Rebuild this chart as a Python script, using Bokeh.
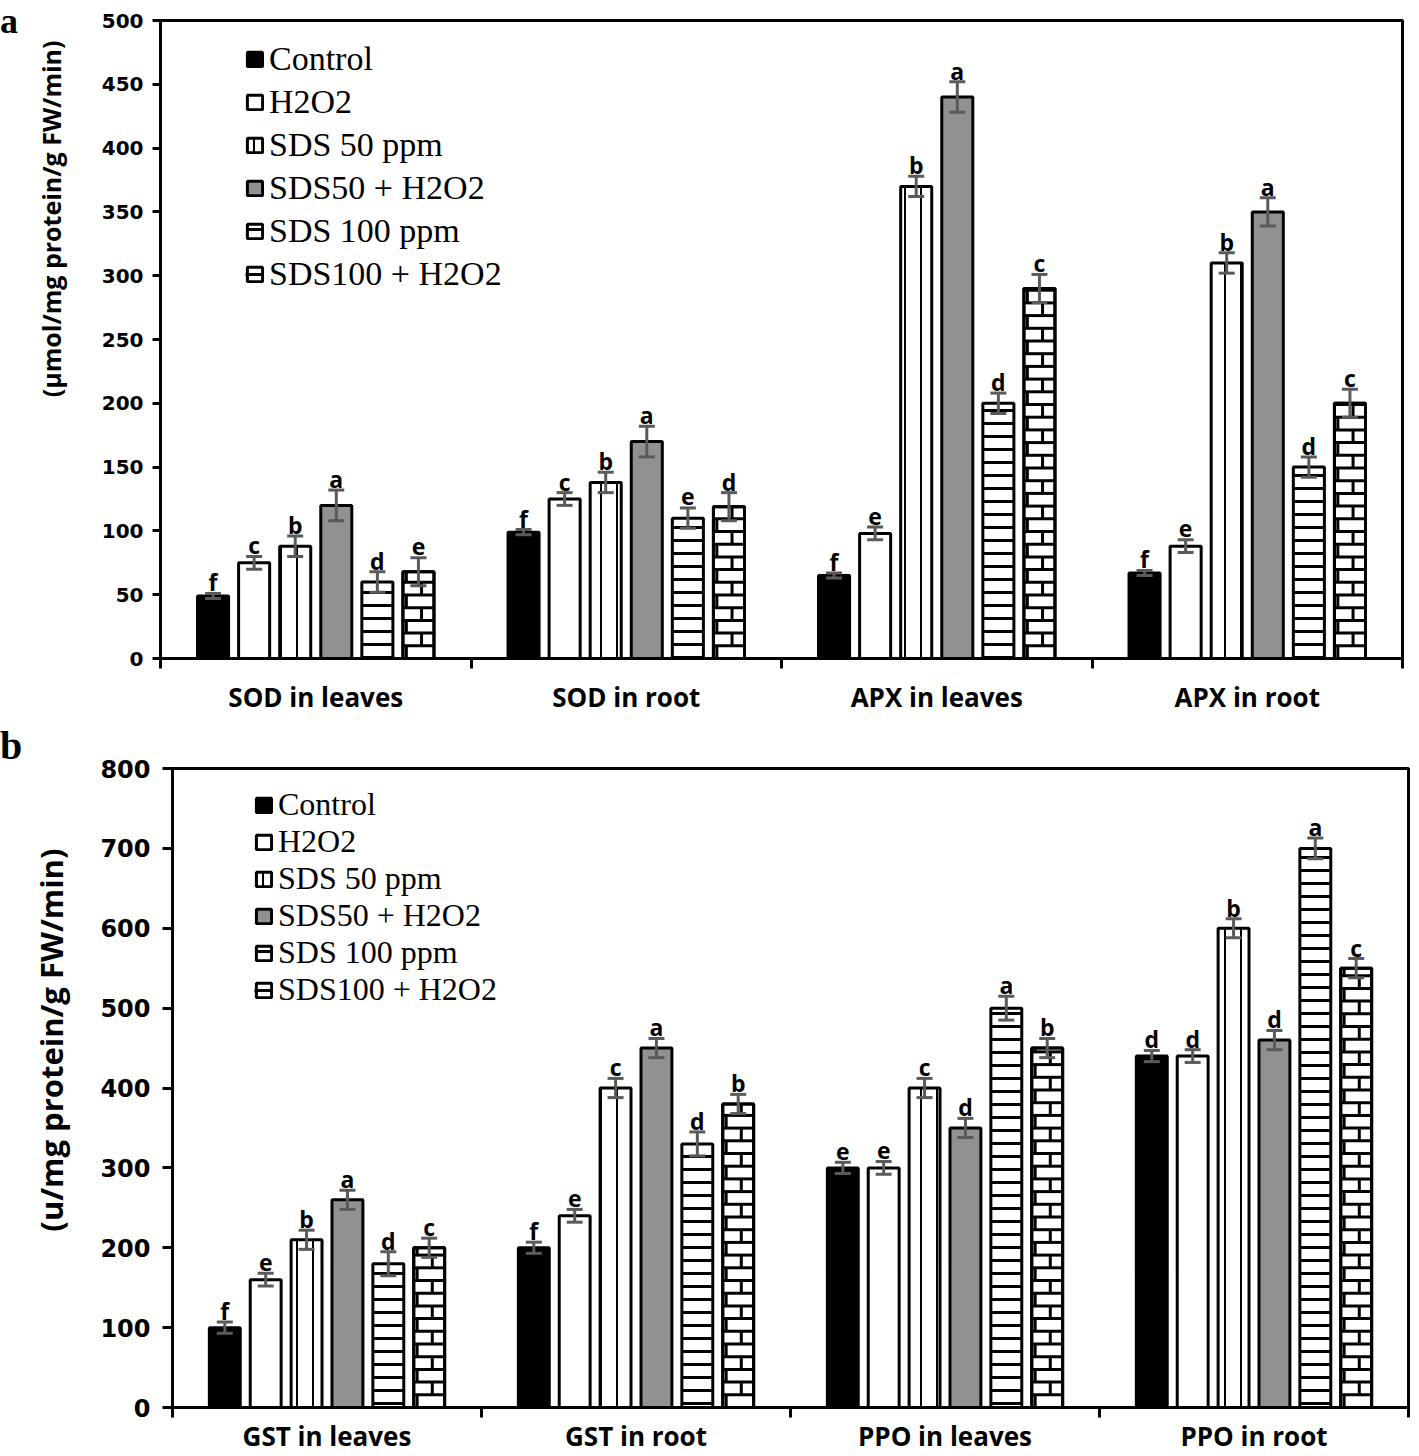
import numpy as np
from bokeh.plotting import figure
from bokeh.models import (ColumnDataSource, Range1d, FixedTicker, Whisker, TeeHead,
                          Legend, LegendItem, Title, CanvasTexture, Div)
from bokeh.layouts import column, row
from bokeh.embed import file_html
from bokeh.resources import INLINE
from bokeh.core.properties import value

# ---------------- data ----------------
treatments = ["Control", "H2O2", "SDS 50 ppm", "SDS50 + H2O2", "SDS 100 ppm", "SDS100 + H2O2"]

# panel a
groups_a = ["SOD in leaves", "SOD in root", "APX in leaves", "APX in root"]
control_a = [49, 99, 65, 67]
h2o2_a = [75, 125, 98, 88]
sds50_a = [88, 138, 370, 310]
sds50_h2o2_a = [120, 170, 440, 350]
sds100_a = [60, 110, 200, 150]
sds100_h2o2_a = [68, 119, 290, 200]

err_control_a = [2, 2, 2, 2]
err_h2o2_a = [5, 5, 5, 5]
err_sds50_a = [8, 8, 8, 8]
err_sds50_h2o2_a = [12, 12, 12, 11]
err_sds100_a = [8, 8, 8, 8]
err_sds100_h2o2_a = [11, 11, 11, 11]

let_control_a = ["f", "f", "f", "f"]
let_h2o2_a = ["c", "c", "e", "e"]
let_sds50_a = ["b", "b", "b", "b"]
let_sds50_h2o2_a = ["a", "a", "a", "a"]
let_sds100_a = ["d", "e", "d", "d"]
let_sds100_h2o2_a = ["e", "d", "c", "c"]

yticks_a = [0, 50, 100, 150, 200, 250, 300, 350, 400, 450, 500]
ylabel_a = "(µmol/mg protein/g FW/min)"

# panel b
groups_b = ["GST in leaves", "GST in root", "PPO in leaves", "PPO in root"]
control_b = [100, 200, 300, 440]
h2o2_b = [160, 240, 300, 440]
sds50_b = [210, 400, 400, 600]
sds50_h2o2_b = [260, 450, 350, 460]
sds100_b = [180, 330, 500, 700]
sds100_h2o2_b = [200, 380, 450, 550]

err_control_b = [7, 7, 7, 7]
err_h2o2_b = [8, 8, 8, 8]
err_sds50_b = [12, 12, 12, 12]
err_sds50_h2o2_b = [12, 12, 12, 12]
err_sds100_b = [15, 15, 15, 13]
err_sds100_h2o2_b = [12, 12, 12, 12]

let_control_b = ["f", "f", "e", "d"]
let_h2o2_b = ["e", "e", "e", "d"]
let_sds50_b = ["b", "c", "c", "b"]
let_sds50_h2o2_b = ["a", "a", "d", "d"]
let_sds100_b = ["d", "d", "a", "a"]
let_sds100_h2o2_b = ["c", "b", "b", "c"]

yticks_b = [0, 100, 200, 300, 400, 500, 600, 700, 800]
ylabel_b = "(u/mg protein/g FW/min)"

# ---------------- styles ----------------
checker_js = """
const n = ctx.canvas.width;
const h = n / 2;
ctx.fillStyle = '#000000';
ctx.fillRect(0, 0, h, h);
ctx.fillRect(h, h, h, h);
"""

PITCH = 0.1323          # bar spacing inside a group (category units)
BAR_W = 0.10            # bar width (category units)
BRICK_ROW_PX = 12.7     # brick course height in pixels
JOINT_OFFS = (-0.039, 0.010)  # brick joint offsets from bar centre (category units)
SANS = "Open Sans"


def styles():
    return [
        dict(fill_color="black"),
        dict(fill_color="white"),
        dict(fill_color="white", hatch_pattern=value("vertical_line"), hatch_scale=16,
             hatch_weight=2, hatch_color="black"),
        dict(fill_color="white", hatch_pattern=value("checker"), hatch_scale=6,
             hatch_extra={"checker": CanvasTexture(code=checker_js)}),
        dict(fill_color="white", hatch_pattern=value("horizontal_line"), hatch_scale=13,
             hatch_weight=3, hatch_color="black"),
        dict(fill_color="white"),
    ]


def brick_lines(xs, tops, row_h):
    """Courses and joints of a brick fill, derived from bar positions and heights."""
    hx0, hx1, hy = [], [], []
    vx, vy0, vy1 = [], [], []
    for xc, top in zip(xs, tops):
        k = 0
        while k * row_h < top:
            y0 = k * row_h
            y1 = min((k + 1) * row_h, top)
            if k > 0:
                hx0.append(xc - BAR_W / 2)
                hx1.append(xc + BAR_W / 2)
                hy.append(y0)
            vx.append(xc + JOINT_OFFS[k % 2])
            vy0.append(y0)
            vy1.append(y1)
            k += 1
    return (hx0, hx1, hy), (vx, vy0, vy1)


def make_panel(groups, values, errors, letters, y_end, yticks, ylabel,
               fw, fh, bl, br, bt, bb, tick_out, tick_standoff, tick_font,
               title_font, title_standoff, title_offset, cat_standoff,
               leg_loc, leg_h, leg_font):
    p = figure(frame_width=fw, frame_height=fh,
               x_range=Range1d(0, len(groups)), y_range=Range1d(0, y_end),
               output_backend="svg", toolbar_location=None,
               min_border_left=bl, min_border_right=br,
               min_border_top=bt, min_border_bottom=bb)
    p.xgrid.visible = False
    p.ygrid.visible = False
    p.outline_line_color = "black"
    p.outline_line_width = 3
    p.background_fill_color = "white"
    p.border_fill_alpha = 0

    centers = np.arange(len(groups)) + 0.5
    items = []
    st = styles()
    row_h = BRICK_ROW_PX * y_end / fh
    for i, name in enumerate(treatments):
        xs = centers + (i - 2.5) * PITCH
        vals = np.array(values[i], dtype=float)
        errs = np.array(errors[i], dtype=float)
        src = ColumnDataSource(dict(x=xs, top=vals, upper=vals + errs,
                                    lower=vals - errs, letter=letters[i]))
        r = p.vbar(x="x", top="top", bottom=0, width=BAR_W, source=src,
                   line_color="black", line_width=3, **st[i])
        rends = [r]
        if i == 5:
            (hx0, hx1, hy), (vx, vy0, vy1) = brick_lines(xs, vals, row_h)
            hs = p.segment(x0=hx0, y0=hy, x1=hx1, y1=hy, line_color="black",
                           line_width=3)
            p.segment(x0=vx, y0=vy0, x1=vx, y1=vy1, line_color="black", line_width=3)
            p.vbar(x="x", top="top", bottom=0, width=BAR_W, source=src,
                   fill_color=None, line_color="black", line_width=3)
            rends.append(hs)
        items.append(LegendItem(label=name, renderers=rends))
        w = Whisker(source=src, base="x", upper="upper", lower="lower",
                    dimension="height", line_color="#5a5a5a", line_width=3,
                    upper_head=TeeHead(size=16, line_color="#5a5a5a", line_width=3),
                    lower_head=TeeHead(size=16, line_color="#5a5a5a", line_width=3),
                    level="overlay")
        p.add_layout(w)
        p.text(x="x", y="upper", text="letter", source=src, text_align="center",
               text_baseline="alphabetic", y_offset=-11,
               text_font=value(SANS), text_font_style="bold",
               text_font_size="23px", text_color="black")

    # x axis: group labels at centres, tick marks at group boundaries
    xa = p.xaxis[0]
    xa.ticker = FixedTicker(ticks=list(centers), minor_ticks=list(range(len(groups) + 1)))
    xa.major_label_overrides = {float(c): g for c, g in zip(centers, groups)}
    xa.major_tick_line_color = None
    xa.major_tick_out = 0
    xa.major_tick_in = 0
    xa.minor_tick_line_color = "black"
    xa.minor_tick_line_width = 3
    xa.minor_tick_out = 10
    xa.minor_tick_in = 0
    xa.axis_line_width = 3
    xa.axis_line_color = "black"
    xa.major_label_standoff = cat_standoff
    xa.major_label_text_font = SANS
    xa.major_label_text_font_style = "bold"
    xa.major_label_text_font_size = "26px"
    xa.major_label_text_color = "black"

    ya = p.yaxis[0]
    ya.ticker = FixedTicker(ticks=yticks)
    ya.minor_tick_line_color = None
    ya.major_tick_out = tick_out
    ya.major_tick_in = 0
    ya.major_tick_line_width = 3
    ya.major_tick_line_color = "black"
    ya.axis_line_width = 3
    ya.axis_line_color = "black"
    ya.major_label_standoff = tick_standoff
    ya.major_label_text_font = "DejaVu Sans"
    ya.major_label_text_font_style = "bold"
    ya.major_label_text_font_size = tick_font
    ya.major_label_text_color = "black"

    p.add_layout(Title(text=ylabel, align="right", offset=title_offset,
                       standoff=title_standoff, text_font=SANS, text_font_style="bold",
                       text_font_size=title_font, text_color="black"), "left")

    leg = Legend(items=items, location=leg_loc, padding=0, margin=0, spacing=0,
                 border_line_color=None, background_fill_alpha=0,
                 glyph_width=19, glyph_height=18, label_height=leg_h,
                 label_standoff=5, label_text_font="Liberation Serif",
                 label_text_font_size=leg_font, label_text_color="black")
    p.add_layout(leg)
    return p


def tag(letter, size, line_h, h):
    html = ('<span style="font-family: \'Liberation Serif\'; font-weight: bold; '
            'font-size: %dpx; line-height: %dpx; color: black;">%s</span>'
            % (size, line_h, letter))
    return Div(text=html, width=20, height=h, margin=(0, -20, 0, 0))


vals_a = [control_a, h2o2_a, sds50_a, sds50_h2o2_a, sds100_a, sds100_h2o2_a]
errs_a = [err_control_a, err_h2o2_a, err_sds50_a, err_sds50_h2o2_a, err_sds100_a, err_sds100_h2o2_a]
lets_a = [let_control_a, let_h2o2_a, let_sds50_a, let_sds50_h2o2_a, let_sds100_a, let_sds100_h2o2_a]

vals_b = [control_b, h2o2_b, sds50_b, sds50_h2o2_b, sds100_b, sds100_h2o2_b]
errs_b = [err_control_b, err_h2o2_b, err_sds50_b, err_sds50_h2o2_b, err_sds100_b, err_sds100_h2o2_b]
lets_b = [let_control_b, let_h2o2_b, let_sds50_b, let_sds50_h2o2_b, let_sds100_b, let_sds100_h2o2_b]

pa = make_panel(groups_a, vals_a, errs_a, lets_a, 500, yticks_a, ylabel_a,
                fw=1242, fh=638, bl=157, br=12, bt=20, bb=62,
                tick_out=8, tick_standoff=9, tick_font="20px",
                title_font="25px", title_standoff=62, title_offset=20,
                cat_standoff=10,
                leg_loc=(85, 363), leg_h=43, leg_font="34px")

pb = make_panel(groups_b, vals_b, errs_b, lets_b, 800, yticks_b, ylabel_b,
                fw=1236, fh=639, bl=172, br=3, bt=48, bb=44,
                tick_out=10, tick_standoff=12, tick_font="24px",
                title_font="31px", title_standoff=52, title_offset=80,
                cat_standoff=0,
                leg_loc=(82, 399), leg_h=36, leg_font="32px")

layout = column(row(tag("a", 36, 42, 42), pa), row(tag("b", 40, 52, 48), pb))
open("out.html", "w").write(file_html(layout, INLINE))
